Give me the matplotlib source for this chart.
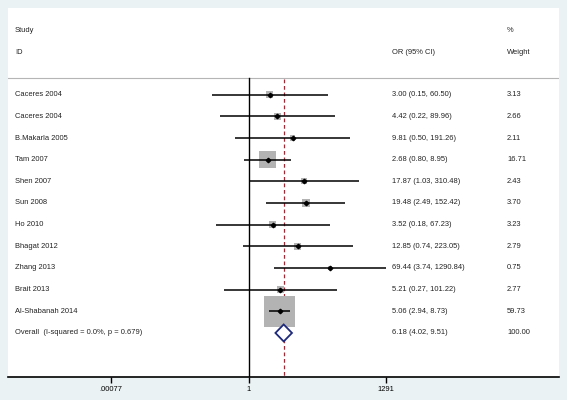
import numpy as np
import matplotlib
matplotlib.use("Agg")
import matplotlib.pyplot as plt
from matplotlib.patches import Polygon

plt.rcParams['font.family'] = ['Liberation Sans', 'DejaVu Sans']

studies = ["Caceres 2004", "Caceres 2004", "B.Makarla 2005", "Tam 2007", "Shen 2007",
           "Sun 2008", "Ho 2010", "Bhagat 2012", "Zhang 2013", "Brait 2013",
           "Al-Shabanah 2014"]
orv = [3.00, 4.42, 9.81, 2.68, 17.87, 19.48, 3.52, 12.85, 69.44, 5.21, 5.06]
lo = [0.15, 0.22, 0.50, 0.80, 1.03, 2.49, 0.18, 0.74, 3.74, 0.27, 2.94]
hi = [60.50, 89.96, 191.26, 8.95, 310.48, 152.42, 67.23, 223.05, 1290.84, 101.22, 8.73]
weights = [3.13, 2.66, 2.11, 16.71, 2.43, 3.70, 3.23, 2.79, 0.75, 2.77, 59.73]
overall_label = "Overall  (I-squared = 0.0%, p = 0.679)"
overall = (6.18, 4.02, 9.51)
overall_weight = "100.00"
tick_vals = [0.00077, 1, 1291]
tick_labels = [".00077", "1", "1291"]

W, H = 567, 400
fig = plt.figure(figsize=(W / 100, H / 100), dpi=100, facecolor='#eaf2f3')

# axes covering the white panel, data y = pixel y
ax = fig.add_axes([8 / W, 1 - 377 / H, 551 / W, 369 / H])
ax.set_facecolor('white')
ax.set_ylim(377, 8)
ax.set_xscale('log')
px_per_ln = 19.21
x_one = 248.7
ax.set_xlim(np.exp((8 - x_one) / px_per_ln), np.exp((559 - x_one) / px_per_ln))

for s in ['top', 'left', 'right']:
    ax.spines[s].set_visible(False)
ax.spines['bottom'].set_linewidth(1.2)
ax.yaxis.set_visible(False)
ax.set_xticks(tick_vals)
ax.set_xticklabels(tick_labels)
ax.minorticks_off()
ax.tick_params(axis='x', direction='out', length=4, width=1, pad=2.5,
               labelsize=5.4, colors='black')

fs = 5.4
tc = '#222222'
row0, step = 94.7, 21.66
ys = [row0 + i * step for i in range(len(studies))]
y_overall = row0 + len(studies) * step

# separator
ax.axhline(77.5, color='#b5b5b5', lw=0.8)
# null line and overall line
ax.plot([1, 1], [78, 377], color='black', lw=1.0, zorder=2)
ax.plot([overall[0]] * 2, [79, 377], color='#9e2a36', lw=0.9,
        dashes=(3, 2.2), zorder=2)

max_side_pt = 31 * 0.72
ax.scatter(orv, ys, marker='s', s=[(max_side_pt ** 2) * w / max(weights) for w in weights],
           color='#b3b3b3', linewidths=0, zorder=3)
for y, l, h in zip(ys, lo, hi):
    ax.plot([l, h], [y, y], color='black', lw=1.1, zorder=4, solid_capstyle='butt')
ax.plot(orv, ys, linestyle='none', marker='D', ms=2.3, color='black', zorder=5)

est, olo, ohi = overall
dh = 8.5
diamond = Polygon([(olo, y_overall), (est, y_overall - dh), (ohi, y_overall),
                   (est, y_overall + dh)], closed=True, facecolor='white',
                  edgecolor='#1f2a7a', lw=1.3, zorder=5)
ax.add_patch(diamond)

def ftext(x, y, s):
    fig.text(x / W, 1 - y / H, s, fontsize=fs, color=tc, ha='left', va='center')

ftext(15, 30, "Study")
ftext(15, 52, "ID")
ftext(392, 52, "OR (95% CI)")
ftext(507, 30, "%")
ftext(507, 52, "Weight")

for name, y, o, l, h, w in zip(studies, ys, orv, lo, hi, weights):
    ftext(15, y, name)
    ftext(392, y, f"{o:.2f} ({l:.2f}, {h:.2f})")
    ftext(507, y, f"{w:.2f}")

ftext(15, y_overall, overall_label)
ftext(392, y_overall, f"{est:.2f} ({olo:.2f}, {ohi:.2f})")
ftext(507, y_overall, overall_weight)

fig.savefig("out.png", dpi=100, facecolor=fig.get_facecolor())
